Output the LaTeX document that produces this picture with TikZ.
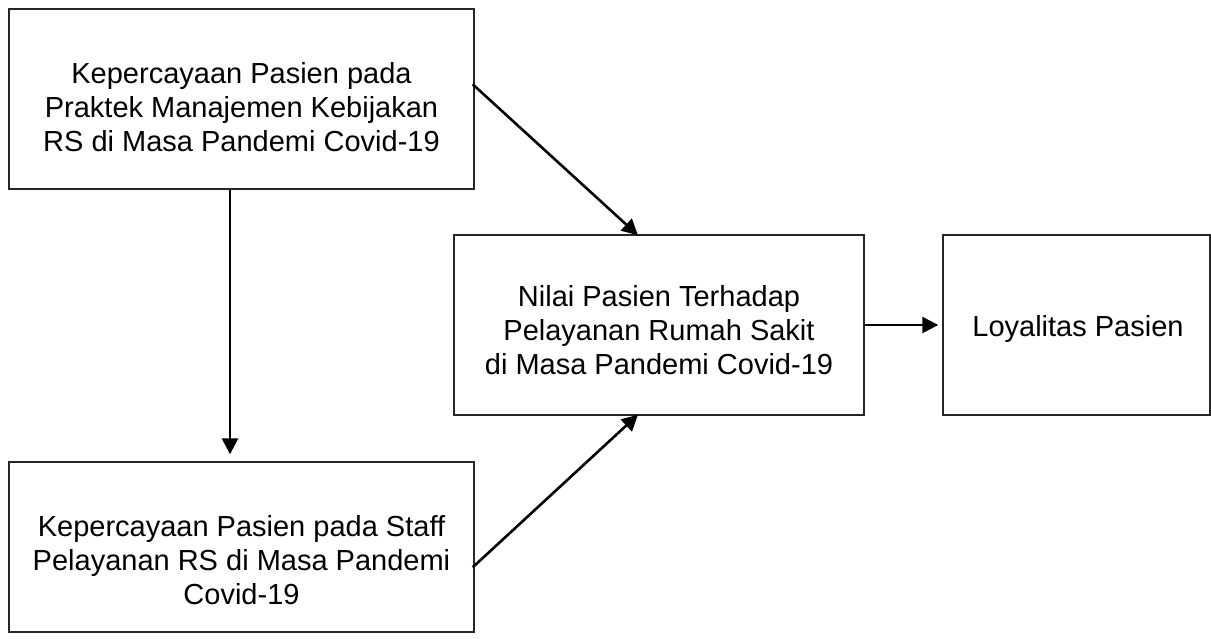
\documentclass[tikz,border=0pt]{standalone}
\usepackage{fontspec}
\setmainfont{Liberation Sans}
\usetikzlibrary{arrows.meta,calc}
\begin{document}
\begin{tikzpicture}[x=1pt,y=-1pt,
  box/.style={draw=black!85,line width=1.4pt,rectangle,inner sep=0pt},
  txt/.style={align=center,font=\fontsize{29}{34}\selectfont,inner sep=0pt},
  arr/.style={line width=2.6pt,-{Triangle[length=16pt,width=16pt]}}]
\useasboundingbox (0,0) rectangle (1211,639);
\node[box,minimum width=465pt,minimum height=180pt] (b1) at (241.5,99) {};
\node[txt] (t1) at (241.5,107) {Kepercayaan Pasien pada\\Praktek Manajemen Kebijakan\\RS di Masa Pandemi Covid-19};
\node[box,minimum width=465pt,minimum height=170pt] (b2) at (241.5,547) {};
\node[txt] (t2) at (241.5,560) {Kepercayaan Pasien pada Staff\\Pelayanan RS di Masa Pandemi\\Covid-19};
\node[box,minimum width=410pt,minimum height=180pt] (m) at (659,325) {};
\node[txt] (tm) at (659,330) {Nilai Pasien Terhadap\\Pelayanan Rumah Sakit\\di Masa Pandemi Covid-19};
\node[box,minimum width=267pt,minimum height=180pt] (r) at (1076.5,325) {};
\node[txt] (tr) at (1078,329) {Loyalitas Pasien};
\draw[arr] ([yshift=-76pt,xshift=-2pt]b1.north east) -- ([xshift=-21pt,yshift=-1pt]m.north);
\draw[arr] ([xshift=-11.5pt]b1.south) -- ([xshift=-11.5pt,yshift=7pt]b2.north);
\draw[arr] ([yshift=-106pt,xshift=-2pt]b2.north east) -- ([xshift=-21pt,yshift=1pt]m.south);
\draw[arr] (m.east) -- ([xshift=-4pt]r.west);
\end{tikzpicture}
\end{document}
